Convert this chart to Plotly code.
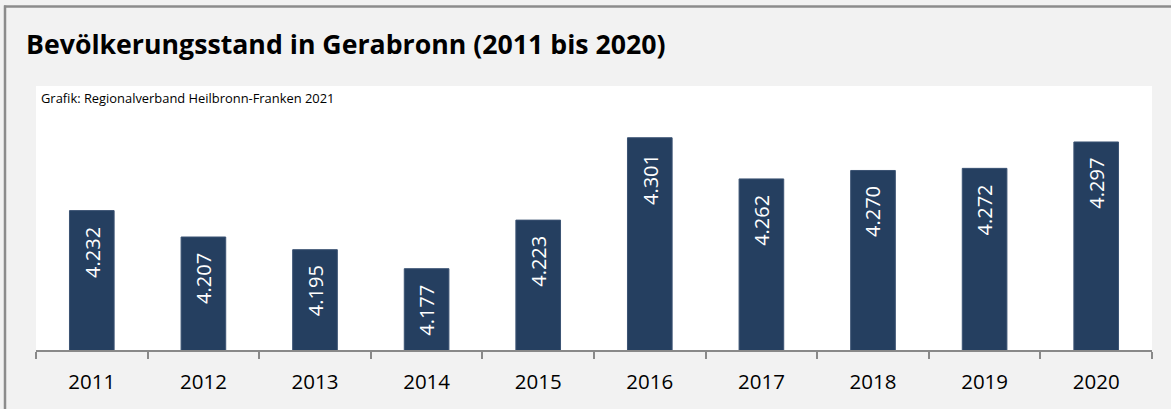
import plotly.graph_objects as go

years = ["2011", "2012", "2013", "2014", "2015", "2016", "2017", "2018", "2019", "2020"]
population = [4232, 4207, 4195, 4177, 4223, 4301, 4262, 4270, 4272, 4297]
labels = [f"{v:,}".replace(",", ".") for v in population]

W, H = 1171, 409
L, R, T, B = 36, 1152, 86, 350

fig = go.Figure(go.Bar(
    x=years, y=population,
    marker=dict(color="#253f60", line=dict(color="#3b5373", width=1)),
    width=0.4, hoverinfo="x+y",
))

def px_x(p):
    return (p - L) / (R - L)

def px_y(p):
    return (B - p) / (B - T)

annotations = [dict(text="Grafik: Regionalverband Heilbronn-Franken 2021",
                    xref="paper", yref="paper", x=px_x(39), y=px_y(98),
                    xanchor="left", yanchor="middle", showarrow=False,
                    font=dict(family="Open Sans", size=12.9, color="black"))]
for i, (v, lab) in enumerate(zip(population, labels)):
    annotations.append(dict(x=i, y=v, xref="x", yref="y", text=lab, textangle=-90,
                            showarrow=False, xanchor="center", yanchor="top", yshift=-14,
                            font=dict(family="Open Sans", size=20, color="white")))

fig.update_layout(
    width=W, height=H,
    margin=dict(l=L, r=W - R, t=T, b=H - B),
    paper_bgcolor="#f2f2f2", plot_bgcolor="white",
    showlegend=False,
    title=dict(text="<b>Bevölkerungsstand in Gerabronn (2011 bis 2020)</b>",
               x=26 / W, xanchor="left", xref="container",
               y=1 - 45 / H, yanchor="middle", yref="container",
               font=dict(family="Open Sans", size=26.7, color="black")),
    xaxis=dict(type="category", showgrid=False, showline=True, linecolor="#898989", linewidth=2,
               ticks="outside", tickson="boundaries", ticklen=7, tickwidth=1.5, tickcolor="#898989",
               tickfont=dict(family="Open Sans", size=20.5, color="black"),
               ticklabelstandoff=12,
               range=[-0.5, 9.5], fixedrange=True),
    yaxis=dict(range=[4100, 4350], visible=False, showgrid=False, fixedrange=True),
    annotations=annotations,
    shapes=[
        dict(type="line", xref="paper", yref="paper", x0=px_x(4), x1=px_x(1175),
             y0=px_y(6.5), y1=px_y(6.5), line=dict(color="#8c8c8c", width=2.5)),
        dict(type="line", xref="paper", yref="paper", x0=px_x(5), x1=px_x(5),
             y0=px_y(5.5), y1=px_y(415), line=dict(color="#8c8c8c", width=2.5)),
    ],
)

fig.write_html("out.html", config={"displayModeBar": False},
               post_script="document.body.style.margin='0px';")
